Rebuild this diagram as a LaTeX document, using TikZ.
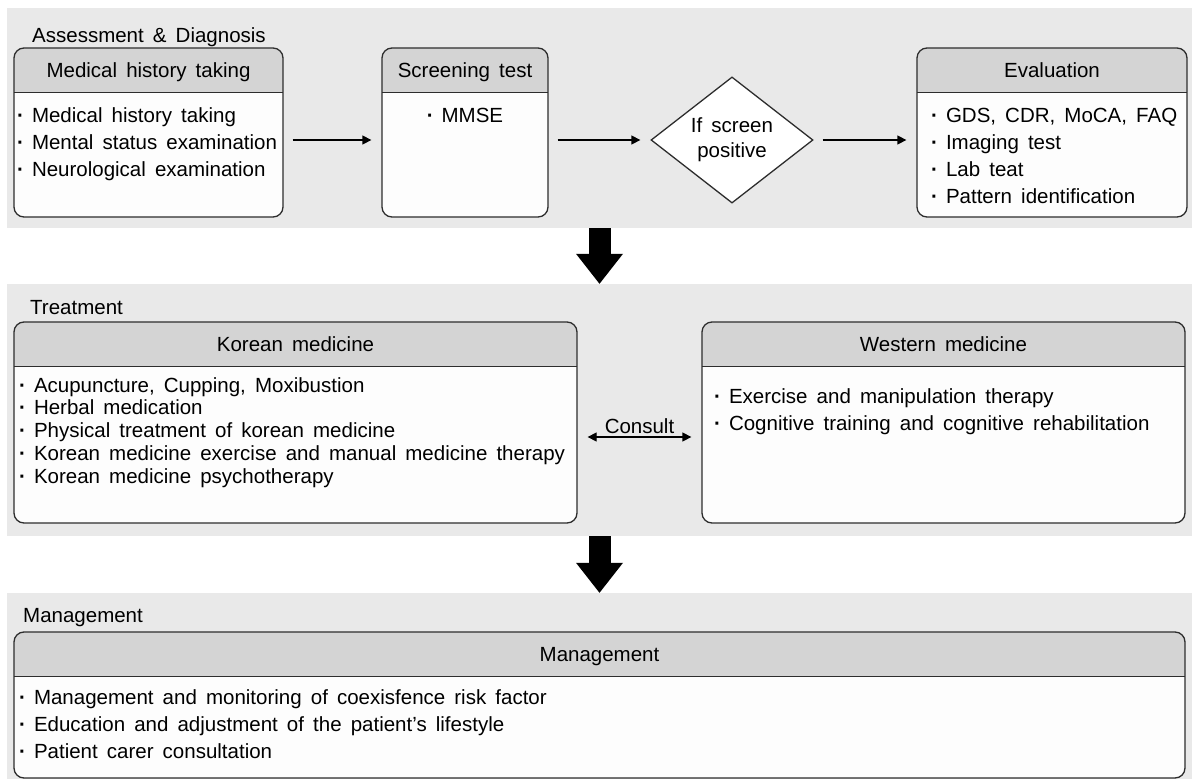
\documentclass[tikz,border=0pt]{standalone}
\usepackage{fontspec}
\setmainfont{Liberation Sans}[WordSpace=1.6]
\usetikzlibrary{arrows.meta,shapes.geometric}
\definecolor{panelbg}{RGB}{233,233,233}
\definecolor{headbg}{RGB}{212,212,212}
\definecolor{cardbg}{RGB}{253,253,253}
\definecolor{edge}{RGB}{45,45,45}
\newcommand{\itemdot}{\textbf{∙}}

\begin{document}
\begin{tikzpicture}[x=1pt, y=-1pt, font=\fontsize{20.5}{27}\selectfont,
      panel/.style={fill=panelbg, inner sep=0pt, minimum width=1185pt},
      card/.style={draw=edge, line width=1.3pt, fill=cardbg, rounded corners=10pt, inner sep=0pt,
                   path picture={\fill[headbg, sharp corners] (path picture bounding box.north west) rectangle ([yshift=-44.5pt]path picture bounding box.north east);
                                 \draw[edge, line width=1.3pt, sharp corners] ([yshift=-44.5pt]path picture bounding box.north west) -- ([yshift=-44.5pt]path picture bounding box.north east);}},
      decision/.style={diamond, draw=edge, line width=1.3pt, fill=white, inner sep=0pt,
                       minimum width=162pt, minimum height=119pt, align=center,
                       font=\fontsize{20.5}{25}\selectfont},
      title/.style={anchor=west, inner sep=0pt, text height=14.7pt, text depth=0pt},
      headtext/.style={inner sep=0pt, text height=14.7pt, text depth=0pt},
      list/.style={align=left, anchor=north west, inner sep=0pt},
      arr/.style={-{Triangle[length=9pt, width=9pt]}, line width=1.3pt, shorten <=9pt, shorten >=10pt},
      twoway/.style={{Triangle[length=9pt, width=9pt]}-{Triangle[length=9pt, width=9pt]}, line width=1.3pt, shorten <=10pt, shorten >=10pt},
      bigarr/.style={line width=22pt, -{Triangle[length=30pt 0 0, width=47pt 0 0, line width=0pt 0 0]}}]
    \useasboundingbox (0,0) rectangle (1192,779);
    \node[panel, minimum height=220pt] (assess) at (599.5,118) {};
    \node[panel, minimum height=252pt] (treat) at (599.5,410) {};
    \node[panel, minimum height=186pt] (manage) at (599.5,686) {};
    \node[title] (assesstitle) at (32,35) {Assessment \& Diagnosis};
    \node[title] (treattitle) at (30,307) {Treatment};
    \node[title] (managetitle) at (23,615) {Management};

    \node[card, minimum width=269pt, minimum height=169pt] (hist) at (148.5,132.5) {};
    \node[card, minimum width=166pt, minimum height=169pt] (screen) at (465,132.5) {};
    \node[decision] (positive) at (732,140) {If screen\\positive};
    \node[card, minimum width=270pt, minimum height=169pt] (eval) at (1052,132.5) {};
    \node[headtext] (histhead) at (148.5,70) {Medical history taking};
    \node[headtext] (screenhead) at (465,70) {Screening test};
    \node[headtext] (evalhead) at (1052,70) {Evaluation};
    \node[list] (histlist) at (17,107.6) {\itemdot\ Medical history taking\\\itemdot\ Mental status examination\\\itemdot\ Neurological examination};
    \node[list, anchor=north] (screenlist) at (465,107.6) {\itemdot\ MMSE};
    \node[list] (evallist) at (931,107.6) {\itemdot\ GDS, CDR, MoCA, FAQ\\\itemdot\ Imaging test\\\itemdot\ Lab teat\\\itemdot\ Pattern identification};

    \node[card, minimum width=563pt, minimum height=201pt] (korean) at (295.5,422.5) {};
    \node[card, minimum width=483pt, minimum height=201pt] (western) at (943.5,422.5) {};
    \node[headtext] (koreanhead) at (295.5,344) {Korean medicine};
    \node[headtext] (westernhead) at (943.5,344) {Western medicine};
    \node[list, font=\fontsize{20.5}{22.8}\selectfont] (koreanlist) at (19,377) {\itemdot\ Acupuncture, Cupping, Moxibustion\\\itemdot\ Herbal medication\\\itemdot\ Physical treatment of korean medicine\\\itemdot\ Korean medicine exercise and manual medicine therapy\\\itemdot\ Korean medicine psychotherapy};
    \node[list] (westernlist) at (714,388.6) {\itemdot\ Exercise and manipulation therapy\\\itemdot\ Cognitive training and cognitive rehabilitation};

    \node[card, minimum width=1171pt, minimum height=146pt] (mgmt) at (599.5,705) {};
    \node[headtext] (mgmthead) at (599.5,654) {Management};
    \node[list] (mgmtlist) at (19,689.6) {\itemdot\ Management and monitoring of coexisfence risk factor\\\itemdot\ Education and adjustment of the patient's lifestyle\\\itemdot\ Patient carer consultation};

    \draw[arr] ([yshift=-7.5pt]hist.east) -- ([yshift=-7.5pt]screen.west);
    \draw[arr] ([yshift=-7.5pt]screen.east) -- (positive.west);
    \draw[arr] (positive.east) -- ([yshift=-7.5pt]eval.west);
    \draw[twoway] ([yshift=-14.5pt]korean.east) -- node[above, inner sep=3pt] (consult) {Consult} ([yshift=-14.5pt]western.west);
    \draw[bigarr] (assess.south) -- (treat.north);
    \draw[bigarr] (treat.south) -- (manage.north);
  \end{tikzpicture}
\end{document}
